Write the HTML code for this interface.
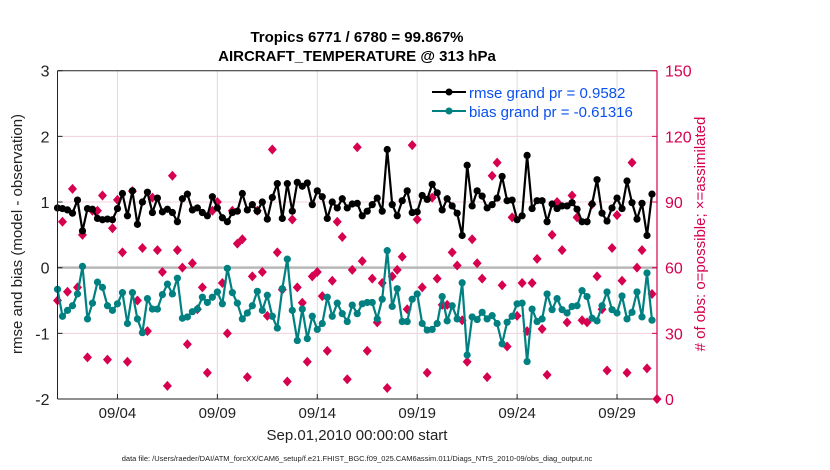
<!DOCTYPE html>
<html><head><meta charset="utf-8"><style>
body{margin:0;background:#fff;}
svg{display:block;font-family:"Liberation Sans",sans-serif;}
</style></head><body>
<svg id="chart" width="830" height="470">
<g font-weight="bold" font-size="15" text-anchor="middle" fill="#000">
<text x="357" y="42">Tropics 6771 / 6780 = 99.867%</text>
<text x="357" y="61">AIRCRAFT_TEMPERATURE @ 313 hPa</text>
</g>
<g id="grid"></g>
<g id="marks"></g>
<g id="axes"></g>
<text x="22" y="234" transform="rotate(-90 22 234)" text-anchor="middle" font-size="15" fill="#222">rmse and bias (model - observation)</text>
<text x="705" y="234" transform="rotate(-90 705 234)" text-anchor="middle" font-size="15" fill="#d6004f"># of obs: o=possible; ×=assimilated</text>
<text x="357" y="440" text-anchor="middle" font-size="15" fill="#222">Sep.01,2010 00:00:00 start</text>
<text x="357" y="461" text-anchor="middle" font-size="7.5" fill="#222">data file: /Users/raeder/DAI/ATM_forcXX/CAM6_setup/f.e21.FHIST_BGC.f09_025.CAM6assim.011/Diags_NTrS_2010-09/obs_diag_output.nc</text>
<g>
<line x1="432" y1="92" x2="466" y2="92" stroke="#000" stroke-width="2"/>
<circle cx="449" cy="92" r="3.5" fill="#000"/>
<text x="469" y="98" font-size="15" fill="#0a50f0">rmse grand pr = 0.9582</text>
<line x1="432" y1="111" x2="466" y2="111" stroke="#008080" stroke-width="2"/>
<circle cx="449" cy="111" r="3.5" fill="#008080"/>
<text x="469" y="117" font-size="15" fill="#0a50f0">bias grand pr = -0.61316</text>
</g>
</svg>
<script>
const rmse=[0.91,0.90,0.88,0.83,1.03,0.56,0.90,0.89,0.75,0.73,0.74,0.73,0.90,1.13,0.79,1.17,0.66,1.0,1.15,0.84,1.06,0.85,0.89,0.84,0.70,1.05,1.12,0.88,0.91,0.84,
0.79,1.08,0.91,0.76,0.70,0.84,0.86,1.13,0.88,0.96,0.86,1.0,0.74,1.07,1.28,0.75,1.28,0.86,1.30,1.24,1.29,0.96,1.17,1.08,0.75,1.0,0.91,1.05,0.91,0.97,
0.98,0.79,0.86,0.96,1.06,0.86,1.80,0.96,0.79,1.02,1.17,0.84,0.85,1.10,1.04,1.27,1.14,0.88,1.05,0.94,0.83,0.49,1.56,0.94,1.17,1.09,0.91,0.96,1.06,1.39,
1.02,1.03,0.73,0.79,1.71,0.90,1.02,1.02,0.70,0.97,0.90,0.94,0.94,0.99,0.89,0.70,0.70,0.97,1.34,0.83,0.71,0.91,1.06,0.90,1.32,0.99,0.74,0.98,0.49,1.12];
const bias=[-0.33,-0.74,-0.65,-0.58,-0.40,0.02,-0.78,-0.54,-0.22,-0.30,-0.58,-0.65,-0.55,-0.38,-0.85,-0.38,-0.78,-0.99,-0.47,-0.63,-0.63,-0.41,-0.25,-0.40,-0.16,-0.77,-0.75,-0.67,-0.63,-0.45,
-0.53,-0.45,-0.37,-0.55,-0.01,-0.38,-0.54,-0.78,-0.69,-0.58,-0.36,-0.65,-0.42,-0.74,-0.92,-0.32,0.13,-0.65,-1.11,-0.63,-1.08,-0.74,-0.94,-0.85,-0.45,-0.74,-0.54,-0.70,-0.82,-0.57,
-0.70,-0.55,-0.53,-0.53,-0.78,-0.48,0.26,-0.59,-0.32,-0.82,-0.82,-0.48,-0.40,-0.85,-0.95,-0.94,-0.85,-0.44,-0.81,-0.58,-0.78,-0.23,-1.33,-0.75,-0.79,-0.68,-0.78,-0.73,-0.85,-1.16,
-0.83,-0.74,-0.55,-0.54,-1.43,-0.63,-0.82,-0.78,-0.40,-0.64,-0.47,-0.64,-0.69,-0.59,-0.58,-0.35,-0.44,-0.77,-0.81,-0.58,-0.37,-0.64,-0.69,-0.43,-0.78,-0.68,-0.37,-0.75,-0.08,-0.80];
const nobs=[45,81,49,96,51,75,19,86,86,93,18,78,91,67,17,95,45,69,31,92,68,58,6,102,68,60,25,62,41,51,
12,86,90,53,30,86,71,73,10,56,86,58,38,114,67,50,8,82,51,44,17,56,58,47,22,54,81,74,9,59,
115,63,22,55,35,53,5,56,59,65,41,116,82,51,12,92,55,43,43,67,61,36,17,73,62,55,10,102,108,52,
24,83,38,53,31,53,64,32,11,75,90,68,35,93,83,36,35,89,56,41,13,69,84,54,12,108,60,68,14,48,0];
const leftTicks=[3,2,1,0,-1,-2];
const rightTicks=[0,30,60,90,120,150];
const xTickLabels=["09/04","09/09","09/14","09/19","09/24","09/29"];
const xTickDays=[3,8,13,18,23,28];

const L=57.5,R=657,T=70.7,B=399;
const X=d=>L+(R-L)*d/30;
const Y=v=>T+(B-T)*(3-v)/5;
const Y2=c=>B-(B-T)*c/150;
const NS="http://www.w3.org/2000/svg";
function mk(tag,attrs,parent){const e=document.createElementNS(NS,tag);for(const k in attrs)e.setAttribute(k,attrs[k]);parent.appendChild(e);return e;}
const grid=document.getElementById('grid'),marks=document.getElementById('marks'),axes=document.getElementById('axes');
rightTicks.forEach(c=>{if(c>0&&c<150){const l=mk('line',{x1:L,x2:R,y1:Y2(c),y2:Y2(c),stroke:'#f3d0dc','stroke-width':1},grid);

}});
xTickDays.forEach(d=>{const l=mk('line',{x1:X(d),x2:X(d),y1:T,y2:B,stroke:'#dcdcdc','stroke-width':1},grid);

});
const z=mk('line',{x1:L,x2:R,y1:Y(0),y2:Y(0),stroke:'#b8b8b8','stroke-width':2.5},grid);


// obs count diamonds
nobs.forEach((c,i)=>{const x=X(i*0.25),y=Y2(c);
const p=mk('path',{d:`M${x} ${y-5}L${x+4.5} ${y}L${x} ${y+5}L${x-4.5} ${y}Z`,fill:'#d6004f'},marks);

});
function series(vals,color,name){
const pts=vals.map((v,i)=>X(i*0.25).toFixed(1)+','+Y(v).toFixed(1)).join(' ');
const pl=mk('polyline',{points:pts,fill:'none',stroke:color,'stroke-width':2.2,'stroke-linejoin':'round'},marks);


vals.forEach((v,i)=>{const c=mk('circle',{cx:X(i*0.25),cy:Y(v),r:3.6,fill:color},marks);

});}
series(bias,'#008080','bias');
series(rmse,'#000000','rmse');
// axes
const la=mk('line',{x1:L,x2:L,y1:T,y2:B,stroke:'#222','stroke-width':1},axes);


const ta=mk('line',{x1:L,x2:R,y1:T,y2:T,stroke:'#222','stroke-width':1},axes);


const ba=mk('line',{x1:L,x2:R,y1:B,y2:B,stroke:'#222','stroke-width':1},axes);


const ra=mk('line',{x1:R,x2:R,y1:T,y2:B,stroke:'#d6004f','stroke-width':1.2},axes);


leftTicks.forEach(v=>{mk('line',{x1:L,x2:L+5,y1:Y(v),y2:Y(v),stroke:'#222'},axes);
const t=mk('text',{x:L-8,y:Y(v)+6,'text-anchor':'end','font-size':16,fill:'#222'},axes);t.textContent=v;

});
rightTicks.forEach(c=>{mk('line',{x1:R-5,x2:R,y1:Y2(c),y2:Y2(c),stroke:'#d6004f'},axes);
const t=mk('text',{x:R+8,y:Y2(c)+6,'font-size':16,fill:'#d6004f'},axes);t.textContent=c;

});
xTickDays.forEach((d,i)=>{mk('line',{x1:X(d),x2:X(d),y1:B-5,y2:B,stroke:'#222'},axes);
const t=mk('text',{x:X(d),y:B+19,'text-anchor':'middle','font-size':15,fill:'#222'},axes);t.textContent=xTickLabels[i];

});
</script>
</body></html>
